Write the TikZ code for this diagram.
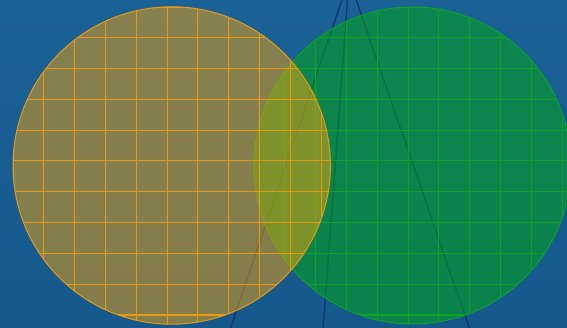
\documentclass[tikz,border=0pt]{standalone}
\usepackage{xcolor}
\usepackage{tikz}
\usetikzlibrary{positioning}

\definecolor{bgtop}{HTML}{1A6196}
\definecolor{bgbottom}{HTML}{15598C}
\definecolor{lensorange}{HTML}{F2A10A}
\definecolor{lensgreen}{HTML}{00AB0A}
\definecolor{gridorange}{HTML}{E99A14}
\definecolor{gridgreen}{HTML}{0FA22A}
\definecolor{raynavy}{HTML}{0E396F}

\begin{document}
\begin{tikzpicture}[x=1pt, y=-1pt,
  ray/.style       = {draw=raynavy, line width=1.5pt},
  greendisc/.style = {fill=lensgreen, fill opacity=0.5},
  orangedisc/.style= {fill=lensorange, fill opacity=0.5},
  greengrid/.style = {draw=gridgreen, line width=1pt},
  orangegrid/.style= {draw=gridorange, line width=1pt}
]
\useasboundingbox (0,0) rectangle (567,328);
\clip (0,0) rectangle (567,328);
\shade[top color=bgtop, bottom color=bgbottom] (0,0) rectangle (567,328);

\coordinate (apex)    at (349,-21);
\coordinate (leftend) at (230,330);
\coordinate (midend)  at (323,330);
\coordinate (rightend)at (470,330);
\coordinate (gcenter) at (412.5,165.5);
\coordinate (ocenter) at (171.7,165.5);

% rays behind the discs
\draw[ray] (apex) -- (leftend);
\draw[ray] (apex) -- (midend);
\draw[ray] (apex) -- (rightend);

% green disc
\fill[greendisc] (gcenter) circle (158.5);
\begin{scope}
  \clip (gcenter) circle (158.5);
  \draw[greengrid, shift={(254,7)}] (0,0) grid[step=30.8pt] (320,320);
\end{scope}
\draw[gridgreen, line width=1pt] (gcenter) circle (158.5);

% orange disc
\fill[orangedisc] (ocenter) circle (158.7);
\begin{scope}
  \clip (ocenter) circle (158.7);
  \draw[orangegrid, shift={(13,7)}] (0,0) grid[step=30.8pt] (320,320);
\end{scope}
\draw[gridorange, line width=1pt] (ocenter) circle (158.7);
\end{tikzpicture}
\end{document}
